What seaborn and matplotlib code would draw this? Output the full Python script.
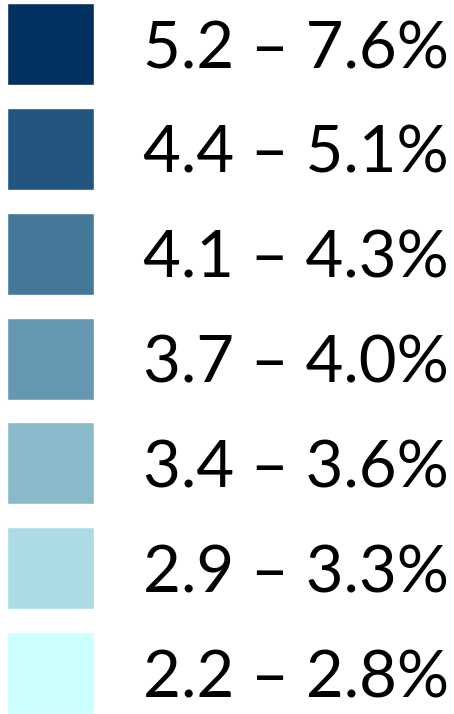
import matplotlib
matplotlib.use("Agg")
import seaborn as sns
import matplotlib.pyplot as plt

# legend classes, darkest first
labels = ["5.2 – 7.6%", "4.4 – 5.1%", "4.1 – 4.3%", "3.7 – 4.0%",
          "3.4 – 3.6%", "2.9 – 3.3%", "2.2 – 2.8%"]
colors = ["#02305F", "#245580", "#457899", "#6698B3",
          "#88BACA", "#ABDCE4", "#CCFFFF"]
fill = [1, 1, 1, 1, 1, 1, 1]

sns.set_style("white")
plt.rcParams['font.family'] = ['Lato', 'DejaVu Sans']

fig = plt.figure(figsize=(4.54, 7.14), dpi=100)
ax = fig.add_axes([7 / 454, 0, 87 / 454, 1])

sns.barplot(x=fill, y=labels, hue=labels, palette=colors, legend=False,
            width=0.782, saturation=1, ax=ax)

ax.set_xlim(0, 1)
ax.set_ylim(6.391, -0.42)
ax.yaxis.tick_right()
ax.tick_params(axis='y', length=0, pad=35, labelsize=47, labelcolor='black')
ax.set_xticks([])
ax.set_xlabel("")
ax.set_ylabel("")
sns.despine(ax=ax, left=True, bottom=True, right=True, top=True)

fig.savefig("out.png", dpi=100)
